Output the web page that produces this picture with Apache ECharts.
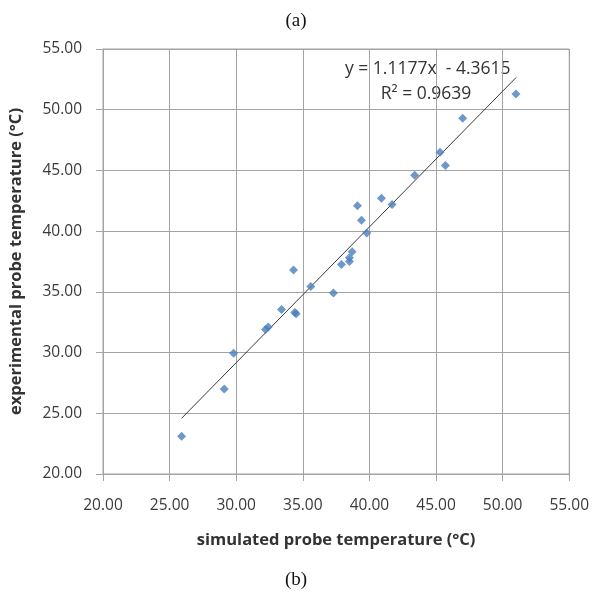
<!DOCTYPE html>
<html>
<head>
<meta charset="utf-8">
<script src="https://cdn.jsdelivr.net/npm/echarts@6/dist/echarts.min.js"></script>
<style>
  html, body { margin: 0; padding: 0; background: #fff; }
  #chart { width: 592px; height: 597px; }
</style>
</head>
<body>
<div id="chart"></div>
<script>
// simulated vs experimental probe temperature (°C)
const simX = [51.0, 47.0, 45.3, 45.7, 43.4, 40.9, 41.7, 39.1, 39.4, 39.8, 38.7, 38.5, 38.5,
  37.9, 34.3, 35.6, 37.3, 33.4, 34.4, 34.5, 32.2, 32.4, 29.8, 29.1, 25.9];
const expY = [51.3, 49.3, 46.5, 45.4, 44.6, 42.7, 42.2, 42.1, 40.9, 39.85, 38.3, 37.8, 37.5,
  37.25, 36.8, 35.45, 34.9, 33.55, 33.3, 33.2, 31.9, 32.1, 29.95, 27.0, 23.1];
const axisTicks = [20, 25, 30, 35, 40, 45, 50, 55];

// linear trendline as printed on the chart
const trendSlope = 1.1177;
const trendIntercept = -4.3615;
const trendR2 = 0.9639;

const points = simX.map((x, i) => [x, expY[i]]);
const xLo = Math.min(...simX);
const xHi = Math.max(...simX);
const trendLine = [xLo, xHi].map(x => [x, trendSlope * x + trendIntercept]);

const chart = echarts.init(document.getElementById('chart'));

const gridColor = '#a3a3a3';
const labelColor = '#3a3a3a';
const uiFont = '"Open Sans", sans-serif';

const valueAxis = (name, extra) => Object.assign({
  type: 'value',
  min: axisTicks[0],
  max: axisTicks[axisTicks.length - 1],
  interval: 5,
  name: name,
  nameLocation: 'middle',
  nameTextStyle: { fontFamily: uiFont, fontWeight: 'bold', fontSize: 16.5, color: '#333' },
  axisLine: { show: true, lineStyle: { color: gridColor, width: 1 } },
  axisTick: { show: true, length: 7, lineStyle: { color: gridColor } },
  splitLine: { show: true, lineStyle: { color: gridColor, width: 1 } }
}, extra);

const option = {
  animation: false,
  backgroundColor: '#fff',
  grid: {
    left: 97, right: 22, top: 49, bottom: 123,
    show: true, borderColor: gridColor, borderWidth: 1
  },
  xAxis: valueAxis('simulated probe temperature (°C)', {
    nameGap: 58,
    axisLabel: {
      fontFamily: uiFont, fontSize: 15.5, color: labelColor, margin: 24,
      formatter: v => v.toFixed(2)
    }
  }),
  yAxis: valueAxis('experimental probe temperature (°C)', {
    nameGap: 78,
    axisLabel: {
      fontFamily: uiFont, fontSize: 15.5, color: labelColor, margin: 21,
      formatter: v => v.toFixed(2)
    }
  }),
  series: [
    {
      type: 'line',
      data: trendLine,
      showSymbol: false,
      symbol: 'none',
      lineStyle: { color: '#3a3a3a', width: 1 },
      z: 2
    },
    {
      type: 'scatter',
      data: points,
      symbol: 'diamond',
      symbolSize: 9,
      itemStyle: { color: '#4a7ebb' },
      z: 3
    }
  ],
  graphic: [
    {
      type: 'text', left: 'center', top: 12,
      style: { text: '(a)', font: '19px "Liberation Serif", serif', fill: '#111' }
    },
    {
      type: 'text', left: 'center', top: 571,
      style: { text: '(b)', font: '19px "Liberation Serif", serif', fill: '#111' }
    },
    {
      type: 'text', x: 345, y: 69,
      style: {
        text: 'y = ' + trendSlope + 'x  - ' + Math.abs(trendIntercept),
        font: '17.5px "Open Sans", sans-serif', fill: '#333',
        verticalAlign: 'middle', align: 'left'
      }
    },
    {
      type: 'text', x: 426, y: 94,
      style: {
        text: 'R² = ' + trendR2,
        font: '17.5px "Open Sans", sans-serif', fill: '#333',
        verticalAlign: 'middle', align: 'center'
      }
    }
  ]
};

chart.setOption(option);
</script>
</body>
</html>
